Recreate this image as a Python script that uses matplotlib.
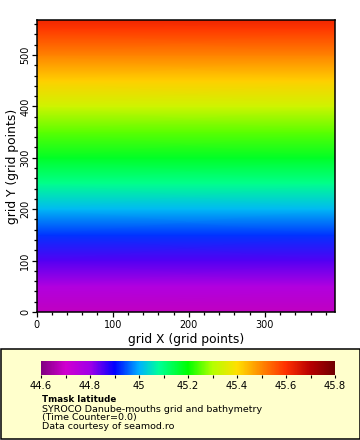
import matplotlib
matplotlib.use("Agg")
import matplotlib.pyplot as plt
from matplotlib.colors import LinearSegmentedColormap, Normalize
from matplotlib.patches import Rectangle
from matplotlib.cm import ScalarMappable
from matplotlib.ticker import MultipleLocator
import numpy as np

plt.rcParams['font.family'] = 'DejaVu Sans'

grid_x = [0, 392]
grid_y = [0, 50, 100, 150, 200, 250, 300, 350, 400, 450, 500, 550, 567]
latitude = [44.68, 44.765, 44.85, 44.93, 45.01, 45.09, 45.17, 45.25, 45.335, 45.42, 45.505, 45.59, 45.62]

cbar_ticks = [44.6, 44.7, 44.8, 44.9, 45.0, 45.1, 45.2, 45.3, 45.4, 45.5, 45.6, 45.7, 45.8]
cbar_labels = ['44.6', '', '44.8', '', '45', '', '45.2', '', '45.4', '', '45.6', '', '45.8']
cmap_levels = [44.6, 44.7, 44.8, 44.9, 45.0, 45.08, 45.2, 45.3, 45.4, 45.6, 45.7, 45.8]
cmap_colors = ['#800080', '#d000d0', '#a000e8', '#0000ff', '#00b0ff', '#00ff9a', '#00ff00',
               '#b4ff00', '#ffe000', '#ff3000', '#b80000', '#700000']
title = 'Tmask latitude'
info = ['SYROCO Danube-mouths grid and bathymetry', '(Time Counter=0.0)', 'Data courtesy of seamod.ro']

W, H = 360, 440
fig = plt.figure(figsize=(W / 100, H / 100), dpi=100)

def box(l, t, r, b):
    return [l / W, 1 - b / H, (r - l) / W, (b - t) / H]

vmin, vmax = cmap_levels[0], cmap_levels[-1]
norm = Normalize(vmin, vmax)
cmap = LinearSegmentedColormap.from_list(
    'ferret', [((v - vmin) / (vmax - vmin), c) for v, c in zip(cmap_levels, cmap_colors)], N=512)

ax = fig.add_axes(box(36.5, 20.5, 335, 312))
Z = np.column_stack([latitude, latitude])
ax.pcolormesh(grid_x, grid_y, Z, cmap=cmap, norm=norm, shading='gouraud')
ax.set_xlim(grid_x[0], grid_x[-1])
ax.set_ylim(grid_y[0], grid_y[-1])
ax.set_xticks([0, 100, 200, 300])
ax.set_yticks([0, 100, 200, 300, 400, 500])
ax.xaxis.set_minor_locator(MultipleLocator(20))
ax.yaxis.set_minor_locator(MultipleLocator(20))
ax.tick_params(which='major', length=3.6, width=0.9, labelsize=6.9, pad=2.5)
ax.tick_params(axis='y', which='major', pad=0.8)
ax.tick_params(which='minor', length=2.4, width=0.9)
for lab in ax.get_yticklabels():
    lab.set_rotation(90)
    lab.set_va('center')
ax.set_xlabel('grid X (grid points)', fontsize=8.9, labelpad=1.5)
ax.set_ylabel('grid Y (grid points)', fontsize=8.9, labelpad=1.0)
for s in ax.spines.values():
    s.set_linewidth(1.1)

fig.add_artist(Rectangle((0.5 / W, 1 - 438.5 / H), 359 / W, 90 / H, transform=fig.transFigure,
                         facecolor='#ffffcc', edgecolor='black', linewidth=1.1, zorder=-1))

cax = fig.add_axes(box(41, 361, 335, 375))
cb = fig.colorbar(ScalarMappable(norm=norm, cmap=cmap), cax=cax, orientation='horizontal')
cb.set_ticks(cbar_ticks, labels=cbar_labels)
cb.minorticks_off()
cb.outline.set_visible(False)
cax.tick_params(length=2.4, width=0.8, labelsize=7.2, pad=2.2)

fig.text(42 / W, 1 - 399.5 / H, title, fontsize=6.3, fontweight='bold', va='center', ha='left')
for y, line in zip([409, 417.7, 426.7], info):
    fig.text(42 / W, 1 - y / H, line, fontsize=6.8, va='center', ha='left')

fig.savefig('out.png', dpi=100)
